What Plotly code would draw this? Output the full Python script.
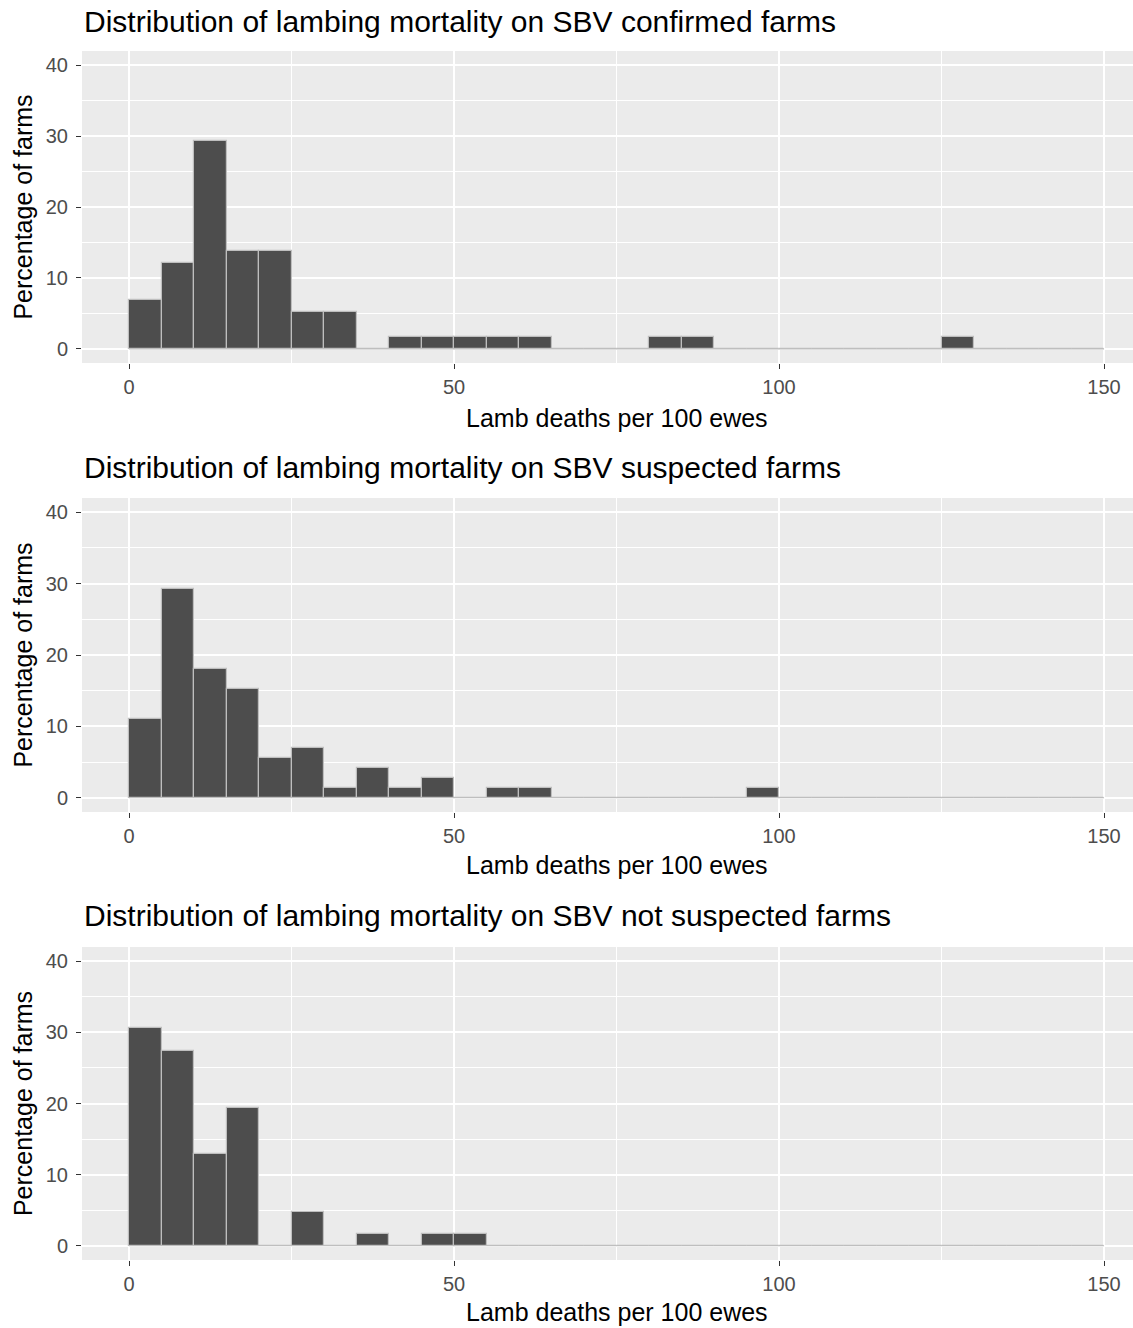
import plotly.graph_objects as go

# ---- data (percentage of farms per 5-unit bin, bins 0-5 ... 145-150) ----
bin_width = 5
n_bins = 30
bin_mid = [bin_width * i + bin_width / 2 for i in range(n_bins)]

titles = [
    "Distribution of lambing mortality on SBV confirmed farms",
    "Distribution of lambing mortality on SBV suspected farms",
    "Distribution of lambing mortality on SBV not suspected farms",
]

confirmed = [6.9, 12.1, 29.3, 13.8, 13.8, 5.2, 5.2, 0, 1.7, 1.7,
             1.7, 1.7, 1.7, 0, 0, 0, 1.7, 1.7, 0, 0,
             0, 0, 0, 0, 0, 1.7, 0, 0, 0, 0]
suspected = [11.1, 29.2, 18.1, 15.3, 5.6, 6.9, 1.4, 4.2, 1.4, 2.8,
             0, 1.4, 1.4, 0, 0, 0, 0, 0, 0, 1.4,
             0, 0, 0, 0, 0, 0, 0, 0, 0, 0]
not_suspected = [30.6, 27.4, 12.9, 19.4, 0, 4.8, 0, 1.6, 0, 1.6,
                 1.6, 0, 0, 0, 0, 0, 0, 0, 0, 0,
                 0, 0, 0, 0, 0, 0, 0, 0, 0, 0]
series = [confirmed, suspected, not_suspected]

x_ticks = [0, 50, 100, 150]
y_ticks = [0, 10, 20, 30, 40]
x_label = "Lamb deaths per 100 ewes"
y_label = "Percentage of farms"

# ---- layout geometry (pixels) ----
W, H = 1133, 1328
L = 82
panels_px = [(51, 363), (498, 812), (947, 1260)]   # top, bottom of each panel
title_px = [22, 468, 915]
xtitle_px = [418, 865, 1312]
xtitle_cx = 616.5


def fy(px):
    return 1 - px / H


def fx(px):
    return (px - L) / (W - L)


fig = go.Figure()
FONT = "Liberation Sans, Arial, sans-serif"

for i, (vals, (top, bot)) in enumerate(zip(series, panels_px)):
    n = "" if i == 0 else str(i + 1)
    xa, ya = "x" + n, "y" + n
    # baseline for empty bins
    fig.add_trace(go.Scatter(x=[x_ticks[0], x_ticks[-1]], y=[0, 0], mode="lines",
                             line=dict(color="#BEBEBE", width=1.2),
                             xaxis=xa, yaxis=ya, hoverinfo="skip"))
    fig.add_trace(go.Bar(x=bin_mid, y=vals, width=bin_width,
                         marker=dict(color="#4D4D4D", line=dict(color="#BEBEBE", width=1.2)),
                         xaxis=xa, yaxis=ya))
    axis_common = dict(
        showgrid=True, gridcolor="white", gridwidth=2,
        zeroline=False, showline=False,
        ticks="outside", ticklen=5, tickwidth=1.2, tickcolor="#333333",
        tickfont=dict(family=FONT, size=20, color="#4D4D4D"),
    )
    fig.layout["xaxis" + n] = dict(
        axis_common, domain=[0, 1], anchor=ya, range=[-7.23, 154.46],
        tickvals=x_ticks,
        minor=dict(tickvals=[25, 75, 125], showgrid=True, gridcolor="white", gridwidth=1.1, ticks=""),
        ticklabelstandoff=1,
    )
    fig.layout["yaxis" + n] = dict(
        axis_common, domain=[fy(bot), fy(top)], anchor=xa, range=[-2, 42],
        tickvals=y_ticks,
        minor=dict(tickvals=[5, 15, 25, 35], showgrid=True, gridcolor="white", gridwidth=1.1, ticks=""),
        title=dict(text=y_label, font=dict(family=FONT, size=25, color="black"), standoff=6),
        ticklabelstandoff=4,
    )
    fig.add_annotation(text=titles[i], xref="paper", yref="paper", x=0, y=fy(title_px[i]),
                       xanchor="left", yanchor="middle", showarrow=False,
                       font=dict(family=FONT, size=30, color="black"))
    # x-axis title (centred on the full ggplot panel, which is cropped on the right)
    fig.add_annotation(text=x_label, xref="paper", yref="paper", x=fx(xtitle_cx), y=fy(xtitle_px[i]),
                       xanchor="center", yanchor="middle", showarrow=False,
                       font=dict(family=FONT, size=25, color="black"))

fig.update_layout(
    width=W, height=H, margin=dict(l=L, r=0, t=0, b=0, pad=0),
    paper_bgcolor="white", plot_bgcolor="#EBEBEB",
    showlegend=False, bargap=0, font=dict(family=FONT),
)

fig.write_html("out.html", config={"displayModeBar": False},
               post_script="document.body.style.margin='0';")
